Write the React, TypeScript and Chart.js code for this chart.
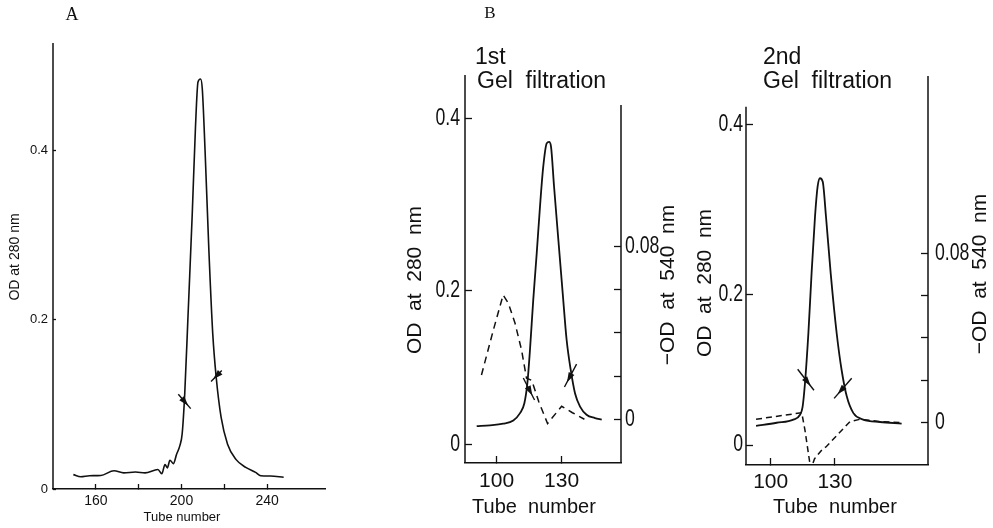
import React, { useEffect, useRef } from "react";
import { Chart, registerables, LinearScale } from "chart.js";
Chart.register(...registerables);

// ---------- Panel A data ----------
const A_TUBE = [149.5, 153, 157, 162.3, 168.5, 173, 178.5, 183, 189, 190.8, 192.3, 193.4, 194.6, 196.2, 197.7, 199.2, 200.3, 201.5, 203, 205, 206.5, 207.7, 208.9, 209.7, 211, 212.8, 214.6, 216.2, 218.5, 221.5, 225.4, 230, 234.6, 237, 241.5, 247.7];
const A_OD280 = [0.017, 0.0145, 0.0157, 0.016, 0.0216, 0.019, 0.02, 0.019, 0.023, 0.018, 0.029, 0.025, 0.034, 0.03, 0.041, 0.051, 0.065, 0.112, 0.202, 0.324, 0.426, 0.481, 0.4845, 0.473, 0.4, 0.281, 0.183, 0.132, 0.0845, 0.053, 0.035, 0.0255, 0.0196, 0.0157, 0.0153, 0.0138];
const A_ARROWS = [[198.5, 0.112, 204.3, 0.095], [218.8, 0.14, 213.8, 0.127]];
const A_X_TICKS = [160, 180, 200, 220, 240];
const A_X_LABELS = [160, 200, 240];
const A_Y_TICKS = [0, 0.2, 0.4];

// ---------- Panel B, 1st gel filtration ----------
const B1_TUBE_280 = [90.8, 96.9, 103, 107.7, 110.8, 112.8, 114.2, 115.4, 116.9, 118.5, 120, 121.5, 123.1, 124.2, 125.1, 126.5, 128.5, 130.5, 132.3, 134.2, 136.2, 138.5, 141.5, 145.4, 148.5];
const B1_OD280 = [0.0236, 0.0246, 0.0267, 0.031, 0.0405, 0.0533, 0.0798, 0.1233, 0.188, 0.2433, 0.2971, 0.3435, 0.3709, 0.3727, 0.3672, 0.3208, 0.2584, 0.1965, 0.136, 0.0967, 0.066, 0.049, 0.0384, 0.0341, 0.032];
const B1_TUBE_540 = [93, 98.5, 103, 105.4, 108.5, 111.5, 113.8, 116.2, 119.5, 123.5, 130, 135, 140.5];
const B1_OD540 = [0.0205, 0.0414, 0.0576, 0.0538, 0.0445, 0.0321, 0.019, 0.018, 0.008, -0.002, 0.006, 0.003, 0.0];
const B1_ARROWS = [[112.3, 0.0862, 117.5, 0.0576], [136.9, 0.1042, 131.3, 0.0745]];

// ---------- Panel B, 2nd gel filtration ----------
const B2_TUBE_280 = [93.2, 102.8, 110.6, 113.7, 114.9, 116, 117.6, 119.1, 120.7, 121.9, 123, 124.3, 125.8, 128, 130.8, 133.1, 135.5, 138.6, 143.2, 151, 161.1];
const B2_OD280 = [0.0254, 0.0297, 0.0339, 0.0403, 0.051, 0.082, 0.149, 0.2258, 0.2926, 0.3274, 0.3373, 0.3331, 0.2926, 0.2258, 0.149, 0.1, 0.0649, 0.0425, 0.0339, 0.0307, 0.0286];
const B2_TUBE_540 = [93.2, 114.5, 116, 118.7, 120.5, 124.5, 125.8, 137, 141.7, 151, 161.1];
const B2_OD540 = [0.0016, 0.0047, -0.0035, -0.022, -0.017, -0.0121, -0.0115, 0.0005, 0.0016, 0.0005, 0.0];
const B2_ARROWS = [[112.6, 0.101, 120.2, 0.073], [137.8, 0.089, 129.6, 0.0622]];

const B_X_TICKS = [100, 130];
const B_Y280_TICKS = [0, 0.2, 0.4];
const B_Y540_TICKS = [0, 0.02, 0.04, 0.06, 0.08];
const B_Y540_LABELS = [0, 0.08];

const INK = "#111";
const SANS = "'Liberation Sans', Arial, Helvetica, sans-serif";
const SERIF = "'Liberation Serif', 'DejaVu Serif', serif";

// Linear scale whose axis, as drawn in the original figure, is slightly
// compressed below 0.2 (knots give value -> display position).
class SegScale extends (LinearScale as any) {
  static id = "seg";
  static defaults = (LinearScale as any).defaults;
  toU(v: number) {
    const kv: number[] = this.options.knotsV;
    const ku: number[] = this.options.knotsU;
    let i = 0;
    if (v >= kv[kv.length - 1]) i = kv.length - 2;
    else while (i < kv.length - 2 && v > kv[i + 1]) i++;
    const t = (v - kv[i]) / (kv[i + 1] - kv[i]);
    return ku[i] + t * (ku[i + 1] - ku[i]);
  }
  fromU(u: number) {
    const kv: number[] = this.options.knotsV;
    const ku: number[] = this.options.knotsU;
    let i = 0;
    if (u >= ku[ku.length - 1]) i = ku.length - 2;
    else while (i < ku.length - 2 && u > ku[i + 1]) i++;
    const t = (u - ku[i]) / (ku[i + 1] - ku[i]);
    return kv[i] + t * (kv[i + 1] - kv[i]);
  }
  getPixelForValue(v: any) {
    if (v === null || v === undefined) return NaN;
    return super.getPixelForValue(this.toU(v));
  }
  getValueForPixel(p: number) {
    return this.fromU(super.getValueForPixel(p));
  }
}
Chart.register(SegScale as any);

const pts = (xs: number[], ys: number[]) => xs.map((x, i) => ({ x, y: ys[i] }));
const setTicks = (vals: number[]) => (s: any) => {
  s.ticks = vals.map((v) => ({ value: v }));
};
const labelIf = (vals: number[]) => (v: any) => (vals.includes(Number(v)) ? String(v) : "");

const axisLinesPlugin = {
  id: "axisLines",
  afterDraw(chart: any, _a: any, opts: any) {
    const { ctx, chartArea } = chart;
    ctx.save();
    ctx.strokeStyle = INK;
    ctx.lineWidth = 1.5;
    for (const l of opts.lines || []) {
      const s = chart.scales[l.scale];
      const x = s.position === "left" ? chartArea.left : chartArea.right;
      const top = s.getPixelForValue(l.from);
      ctx.beginPath();
      ctx.moveTo(x, top);
      ctx.lineTo(x, chartArea.bottom);
      ctx.stroke();
    }
    ctx.restore();
  },
};

const condensedTicksPlugin = {
  id: "condensedTicks",
  afterDraw(chart: any, _a: any, opts: any) {
    const { ctx, chartArea } = chart;
    for (const it of opts.items || []) {
      const s = chart.scales[it.scale];
      const left = s.position === "left";
      for (const v of it.values) {
        const y = s.getPixelForValue(v);
        const x = left ? chartArea.left - it.gap : chartArea.right + it.gap;
        ctx.save();
        ctx.translate(x, y);
        ctx.scale(it.sx, 1);
        ctx.font = it.font;
        ctx.fillStyle = INK;
        ctx.textAlign = left ? "right" : "left";
        ctx.textBaseline = "middle";
        ctx.fillText(String(v), 0, 0);
        ctx.restore();
      }
    }
  },
};

const textsPlugin = {
  id: "texts",
  afterDraw(chart: any, _a: any, opts: any) {
    const { ctx } = chart;
    for (const t of opts.items || []) {
      ctx.save();
      ctx.translate(t.x, t.y);
      if (t.rot) ctx.rotate(t.rot);
      ctx.font = t.font;
      ctx.fillStyle = INK;
      ctx.textAlign = t.align || "center";
      ctx.textBaseline = "middle";
      ctx.fillText(t.text, 0, 0);
      ctx.restore();
    }
  },
};

const arrowsPlugin = {
  id: "arrows",
  afterDatasetsDraw(chart: any, _a: any, opts: any) {
    const xs = chart.scales.x;
    const ys = chart.scales.y;
    const { ctx } = chart;
    ctx.save();
    ctx.strokeStyle = INK;
    ctx.fillStyle = INK;
    ctx.lineWidth = 1.4;
    for (const a of opts.items || []) {
      const x1 = xs.getPixelForValue(a[0]);
      const y1 = ys.getPixelForValue(a[1]);
      const x2 = xs.getPixelForValue(a[2]);
      const y2 = ys.getPixelForValue(a[3]);
      ctx.beginPath();
      ctx.moveTo(x1, y1);
      ctx.lineTo(x2, y2);
      ctx.stroke();
      const ang = Math.atan2(y2 - y1, x2 - x1);
      const f = 0.8;
      const tx = x1 + f * (x2 - x1);
      const ty = y1 + f * (y2 - y1);
      const L = 10;
      const W = 3.2;
      const bx = tx - L * Math.cos(ang);
      const by = ty - L * Math.sin(ang);
      ctx.beginPath();
      ctx.moveTo(tx, ty);
      ctx.lineTo(bx - W * Math.sin(ang), by + W * Math.cos(ang));
      ctx.lineTo(bx + W * Math.sin(ang), by - W * Math.cos(ang));
      ctx.closePath();
      ctx.fill();
    }
    ctx.restore();
  },
};

const commonPlugins = [axisLinesPlugin, condensedTicksPlugin, textsPlugin, arrowsPlugin];

function gridOpts(len: number) {
  return { drawOnChartArea: false, drawTicks: true, tickLength: -len, color: INK, tickWidth: 1.3 };
}

function cfgA(): any {
  return {
    type: "line",
    data: {
      datasets: [
        { data: pts(A_TUBE, A_OD280), borderColor: INK, borderWidth: 1.6, pointRadius: 0, cubicInterpolationMode: "monotone", fill: false },
      ],
    },
    options: {
      responsive: false,
      animation: false,
      events: [],
      layout: { padding: { left: 0, top: 43, right: 15, bottom: 0 } },
      plugins: {
        legend: { display: false },
        tooltip: { enabled: false },
        axisLines: { lines: [{ scale: "y", from: 0.527 }] },
        arrows: { items: A_ARROWS },
        texts: {
          items: [
            { text: "A", x: 72, y: 15, font: `18px ${SERIF}` },
            { text: "OD at 280 nm", x: 15, y: 257, rot: -Math.PI / 2, font: `14px ${SANS}` },
            { text: "Tube number", x: 182, y: 517, font: `13px ${SANS}` },
          ],
        },
      },
      scales: {
        x: {
          type: "linear",
          min: 140,
          max: 267,
          afterFit: (s: any) => { s.height = 39; },
          afterBuildTicks: setTicks(A_X_TICKS),
          ticks: { callback: labelIf(A_X_LABELS), font: { family: SANS, size: 14 }, color: INK, padding: 9, autoSkip: false, maxRotation: 0 },
          grid: gridOpts(5),
          border: { color: INK, width: 1.5 },
        },
        y: {
          type: "linear",
          min: 0,
          max: 0.527,
          afterFit: (s: any) => { s.width = 53; },
          afterBuildTicks: setTicks(A_Y_TICKS),
          ticks: { callback: labelIf(A_Y_TICKS), font: { family: SANS, size: 13 }, color: INK, padding: 8, autoSkip: false },
          grid: gridOpts(3),
          border: { display: false },
        },
      },
    },
    plugins: commonPlugins,
  };
}

const TICKFONT = `23px ${SANS}`;

function cfgB(p: any): any {
  return {
    type: "line",
    data: {
      datasets: [
        { data: pts(p.t280, p.od280), yAxisID: "y", borderColor: INK, borderWidth: 1.8, pointRadius: 0, cubicInterpolationMode: "monotone", fill: false },
        { data: pts(p.t540, p.od540), yAxisID: "y1", borderColor: INK, borderWidth: 1.5, borderDash: p.dash, pointRadius: 0, tension: 0, fill: false },
      ],
    },
    options: {
      responsive: false,
      animation: false,
      events: [],
      layout: { padding: { left: 0, top: p.top, right: 0, bottom: 0 } },
      plugins: {
        legend: { display: false },
        tooltip: { enabled: false },
        axisLines: { lines: [{ scale: "y", from: p.leftFrom }, { scale: "y1", from: p.rightFrom }] },
        condensedTicks: {
          items: [
            { scale: "y", values: B_Y280_TICKS, gap: p.lgap, sx: 0.77, font: TICKFONT },
            { scale: "y1", values: B_Y540_LABELS, gap: p.rgap, sx: 0.77, font: TICKFONT },
          ],
        },
        arrows: { items: p.arrows },
        texts: { items: p.texts },
      },
      scales: {
        x: {
          type: "linear",
          min: p.xmin,
          max: p.xmax,
          afterFit: (s: any) => { s.height = p.xh; },
          afterBuildTicks: setTicks(B_X_TICKS),
          ticks: { callback: labelIf(B_X_TICKS), font: { family: SANS, size: 21 }, color: INK, padding: p.xpad, autoSkip: false, maxRotation: 0 },
          grid: gridOpts(7),
          border: { color: INK, width: 1.5 },
        },
        y: {
          type: "seg",
          position: "left",
          knotsV: [0, 0.2, 0.4],
          knotsU: p.knotsU,
          min: p.ymin,
          max: p.ymax,
          afterFit: (s: any) => { s.width = p.lw; },
          afterBuildTicks: setTicks(B_Y280_TICKS),
          ticks: { display: false },
          grid: gridOpts(7),
          border: { display: false },
        },
        y1: {
          type: "linear",
          position: "right",
          min: p.y1min,
          max: p.y1max,
          afterFit: (s: any) => { s.width = p.rw; },
          afterBuildTicks: setTicks(B_Y540_TICKS),
          ticks: { display: false },
          grid: gridOpts(7),
          border: { display: false },
        },
      },
    },
    plugins: commonPlugins,
  };
}

const TITLE = `23px ${SANS}`;
const AXT = `21px ${SANS}`;

function cfgB1() {
  return cfgB({
    t280: B1_TUBE_280, od280: B1_OD280, t540: B1_TUBE_540, od540: B1_OD540, arrows: B1_ARROWS,
    dash: [7, 5], top: 75, xh: 65, lw: 85, rw: 67,
    xmin: 85.4, xmax: 157.4, ymin: 0, ymax: 0.4502, knotsU: [0.0218, 0.2, 0.4],
    y1min: -0.0203, y1max: 0.1596,
    leftFrom: 0.4502, rightFrom: 0.1457, xpad: 13, lgap: 5, rgap: 4,
    texts: [
      { text: "B", x: 110, y: 14, font: `17px ${SERIF}` },
      { text: "1st", x: 95, y: 58, align: "left", font: TITLE },
      { text: "Gel  filtration", x: 97, y: 82, align: "left", font: TITLE },
      { text: "OD  at  280  nm", x: 35, y: 280, rot: -Math.PI / 2, font: AXT },
      { text: "\u2212OD  at  540  nm", x: 288, y: 285, rot: -Math.PI / 2, font: AXT },
      { text: "Tube  number", x: 154, y: 507, font: `20px ${SANS}` },
    ],
  });
}

function cfgB2() {
  return cfgB({
    t280: B2_TUBE_280, od280: B2_OD280, t540: B2_TUBE_540, od540: B2_OD540, arrows: B2_ARROWS,
    dash: [6, 4], top: 76, xh: 63, lw: 58, rw: 65,
    xmin: 88.5, xmax: 173.4, ymin: 0, ymax: 0.4576, knotsU: [0.0235, 0.2, 0.4],
    y1min: -0.02, y1max: 0.1637,
    leftFrom: 0.4215, rightFrom: 0.1637, xpad: 12, lgap: 3, rgap: 7,
    texts: [
      { text: "2nd", x: 75, y: 58, align: "left", font: TITLE },
      { text: "Gel  filtration", x: 75, y: 82, align: "left", font: TITLE },
      { text: "OD  at  280  nm", x: 17, y: 283, rot: -Math.PI / 2, font: AXT },
      { text: "\u2212OD  at  540  nm", x: 292, y: 274, rot: -Math.PI / 2, font: AXT },
      { text: "Tube  number", x: 147, y: 507, font: `20px ${SANS}` },
    ],
  });
}

export default function App() {
  const refA = useRef<HTMLCanvasElement>(null);
  const refB1 = useRef<HTMLCanvasElement>(null);
  const refB2 = useRef<HTMLCanvasElement>(null);

  useEffect(() => {
    const charts = [
      new Chart(refA.current as HTMLCanvasElement, cfgA()),
      new Chart(refB1.current as HTMLCanvasElement, cfgB1()),
      new Chart(refB2.current as HTMLCanvasElement, cfgB2()),
    ];
    return () => charts.forEach((c) => c.destroy());
  }, []);

  return (
    <div style={{ position: "absolute", left: 0, top: 0, width: 993, height: 528, background: "#fff", overflow: "hidden" }}>
      <canvas ref={refA} width={340} height={528} style={{ position: "absolute", left: 0, top: 0 }} />
      <canvas ref={refB1} width={308} height={528} style={{ position: "absolute", left: 380, top: 0 }} />
      <canvas ref={refB2} width={305} height={528} style={{ position: "absolute", left: 688, top: 0 }} />
    </div>
  );
}
